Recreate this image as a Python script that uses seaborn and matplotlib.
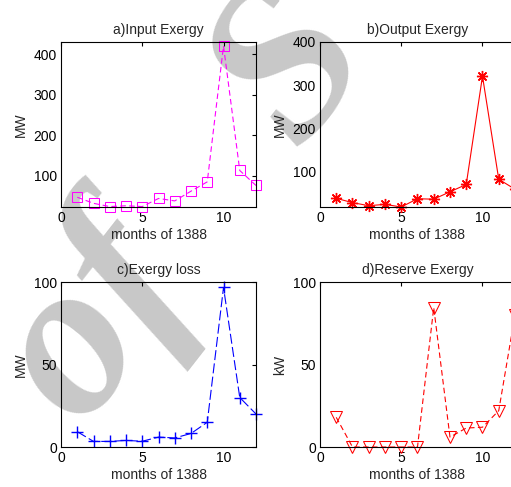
import matplotlib
matplotlib.use('Agg')
import matplotlib.pyplot as plt
import seaborn as sns

# values
months = [1, 2, 3, 4, 5, 6, 7, 8, 9, 10, 11, 12]
input_exergy = [47, 32, 24, 26, 24, 44, 38, 62, 85, 420, 113, 76]
output_exergy = [39, 29, 22, 25, 19, 38, 37, 54, 71, 321, 83, 60]
exergy_loss = [9.3, 3.4, 3.4, 4, 3.5, 6, 5.5, 8.2, 15, 96.7, 30, 20]
reserve_exergy = [18, 0, 0, 0, 0, 0, 84.5, 6, 11.5, 12, 22, 80]

titles = ['a)Input Exergy', 'b)Output Exergy', 'c)Exergy loss', 'd)Reserve Exergy']
ylabels = ['MW', 'MW', 'MW', 'kW']
xlabel = 'months of 1388'
xticks = [0, 5, 10]
yticks = [[100, 200, 300, 400], [100, 200, 300, 400], [0, 50, 100], [0, 50, 100]]
ylims = [(23, 430), (19, 400), (0, 100), (0, 100)]
watermark = 'of   S'

sns.set_style('white')
plt.rcParams['font.family'] = ['Liberation Sans', 'DejaVu Sans']
plt.rcParams['font.size'] = 10

fig = plt.figure(figsize=(5.11, 4.87), dpi=100)

# grey watermark behind the plots
fig.text(0.162, 0.117, watermark, fontsize=160, fontweight='bold', fontstyle='italic',
         family='Liberation Serif', color='#c8c8c8', rotation=52,
         rotation_mode='anchor', ha='left', va='baseline', zorder=-1)

w, h = 0.3816, 0.3388
boxes = [(0.1194, 0.575), (0.6262, 0.575), (0.1194, 0.0821), (0.6262, 0.0821)]

series = [input_exergy, output_exergy, exergy_loss, reserve_exergy]
styles = [
    dict(color='#ff00ff', marker='s', linestyle=(0, (5, 3)), mfc='none', mec='#ff00ff', ms=7),
    dict(color='#ff0000', marker=(8, 2, 0), linestyle='-', mec='#ff0000', ms=8, mew=1.0),
    dict(color='#0000ff', marker='+', linestyle=(0, (9, 3)), mec='#0000ff', ms=9, mew=1.0),
    dict(color='#ff0000', marker='v', linestyle=(0, (5, 3)), mfc='none', mec='#ff0000', ms=8),
]

for i in range(4):
    ax = fig.add_axes([boxes[i][0], boxes[i][1], w, h])
    ax.patch.set_alpha(0)
    sns.lineplot(x=months, y=series[i], ax=ax, lw=0.8, clip_on=False, **styles[i])
    ax.set_xlim(0, 12)
    ax.set_ylim(*ylims[i])
    ax.set_xticks(xticks)
    ax.set_yticks(yticks[i])
    ax.set_title(titles[i], fontsize=10, pad=6)
    ax.set_xlabel(xlabel, fontsize=10, labelpad=2)
    ax.set_ylabel(ylabels[i], fontsize=10, labelpad=4)
    ax.tick_params(direction='in', length=3, width=0.8, top=True, right=True,
                   labelsize=10, pad=3, colors='black')
    for s in ax.spines.values():
        s.set_visible(True)
        s.set_color('black')
        s.set_linewidth(0.8)

fig.savefig('out.png', dpi=100)
